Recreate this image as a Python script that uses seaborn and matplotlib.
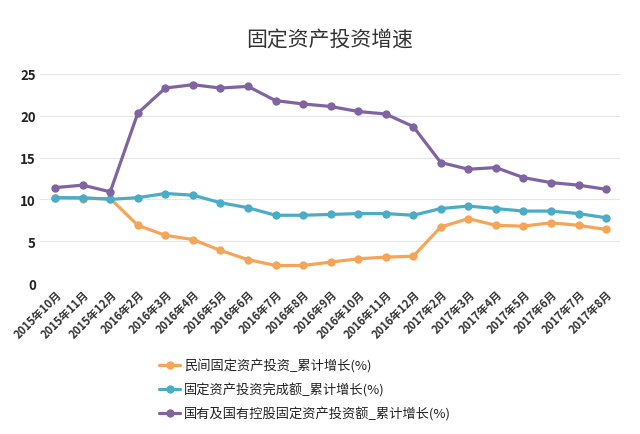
import matplotlib
matplotlib.use("Agg")
import matplotlib.pyplot as plt
import seaborn as sns
import pandas as pd

# 月份
months = ['2015年10月', '2015年11月', '2015年12月', '2016年2月', '2016年3月', '2016年4月',
          '2016年5月', '2016年6月', '2016年7月', '2016年8月', '2016年9月', '2016年10月',
          '2016年11月', '2016年12月', '2017年2月', '2017年3月', '2017年4月', '2017年5月',
          '2017年6月', '2017年7月', '2017年8月']

# 三条序列 (累计增长 %)
private_inv = [10.2, 10.1, 10.1, 6.9, 5.7, 5.2, 3.9, 2.8, 2.1, 2.1, 2.5,
               2.9, 3.1, 3.2, 6.7, 7.7, 6.9, 6.8, 7.2, 6.9, 6.4]
total_inv = [10.2, 10.2, 10.0, 10.2, 10.7, 10.5, 9.6, 9.0, 8.1, 8.1, 8.2,
             8.3, 8.3, 8.1, 8.9, 9.2, 8.9, 8.6, 8.6, 8.3, 7.8]
state_inv = [11.4, 11.7, 10.9, 20.3, 23.3, 23.7, 23.3, 23.5, 21.8, 21.4, 21.1,
             20.5, 20.2, 18.7, 14.4, 13.6, 13.8, 12.6, 12.0, 11.7, 11.2]

series_names = ['民间固定资产投资_累计增长(%)',
                '固定资产投资完成额_累计增长(%)',
                '国有及国有控股固定资产投资额_累计增长(%)']
colors = ['#F5A55A', '#4BACC6', '#8064A2']

df = pd.DataFrame({
    'month': months * 3,
    'value': private_inv + total_inv + state_inv,
    'series': [series_names[0]] * len(months) + [series_names[1]] * len(months)
              + [series_names[2]] * len(months),
})

sns.set_style('white')
plt.rcParams['font.family'] = ['Noto Sans CJK SC', 'DejaVu Sans']

fig = plt.figure(figsize=(6.4, 4.35), dpi=100)
ax = fig.add_axes([0.0625, 0.347, 0.906, 0.481])

sns.lineplot(data=df, x='month', y='value', hue='series', palette=colors,
             marker='o', markersize=6, markeredgewidth=0, linewidth=2.3,
             sort=False, ax=ax)

ax.set_ylim(0, 25)
ax.set_xlim(-0.55, 20.5)
ax.set_yticks([0, 5, 10, 15, 20, 25])
ax.yaxis.grid(True, color='#e6e6e6', linewidth=0.8)
ax.set_axisbelow(True)
for s in ax.spines.values():
    s.set_visible(False)
ax.set_xlabel('')
ax.set_ylabel('')
ax.tick_params(axis='both', length=0, pad=3)
plt.setp(ax.get_yticklabels(), fontsize=9.5, fontweight='bold', color='#222222')
plt.setp(ax.get_xticklabels(), fontsize=8, fontweight='bold', color='#333333',
         rotation=45, ha='right', rotation_mode='anchor')

ax.set_title('固定资产投资增速', fontsize=15, color='#333333', pad=20)

leg = ax.legend(loc='upper left', bbox_to_anchor=(0.185, -0.305), frameon=False,
                fontsize=9.5, handlelength=1.6, handletextpad=0.3, labelspacing=0.75)
for t in leg.get_texts():
    t.set_color('#222222')

fig.savefig('out.png', dpi=100)
